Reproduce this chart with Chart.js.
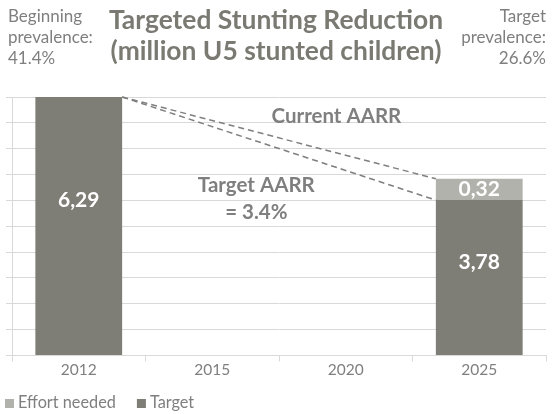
<!DOCTYPE html>
<html><head><meta charset="utf-8">
<script src="https://cdn.jsdelivr.net/npm/chart.js@4/dist/chart.umd.min.js"></script>
<style>html,body{margin:0;padding:0;background:#fff}#wrap{width:554px;height:414px;position:relative}</style>
</head><body><div id="wrap"><canvas id="c" width="554" height="414"></canvas></div>
<script>
// ---- data ----
const categories = ['2012', '2015', '2020', '2025'];
const targetValues = [6.29, null, null, 3.78];
const effortValues = [null, null, null, 0.52];
const targetLabels = ['6,29', '', '', '3,78'];
const effortLabels = ['', '', '', '0,32'];
const seriesNames = ['Target', 'Effort needed'];
const yMax = 6.29;
const yTickCount = 11;
const titleLines = ['Targeted Stunting Reduction', '(million U5 stunted children)'];
const leftNote = ['Beginning', 'prevalence:', '41.4%'];
const rightNote = ['Target', 'prevalence:', '26.6%'];
const noteCurrent = ['Current AARR'];
const noteTarget = ['Target AARR', '= 3.4%'];
// annotation anchors in axis units (category index, y value)
const noteCurrentAt = [1.93, 5.82];
const noteTargetAt = [1.33, 4.13];

const DARK = '#7f7e76', LIGHT = '#b2b2ac', TXT = '#7f7f7f', GRID = '#d9d9d9';
const FONT = 'Lato, "Open Sans", sans-serif';

const overlay = {
  id: 'overlay',
  afterDatasetsDraw(chart) {
    const ctx = chart.ctx;
    const tMeta = chart.getDatasetMeta(0), eMeta = chart.getDatasetMeta(1);
    const a = tMeta.data[0], bT = tMeta.data[3], bE = eMeta.data[3];
    ctx.save();
    // dashed AARR lines
    ctx.strokeStyle = '#7f7f7f'; ctx.lineWidth = 1.5; ctx.setLineDash([6, 4]);
    const sx = a.x + a.width / 2, sy = a.y;
    ctx.beginPath(); ctx.moveTo(sx, sy); ctx.lineTo(bE.x - bE.width / 2, bE.y); ctx.stroke();
    ctx.beginPath(); ctx.moveTo(sx, sy); ctx.lineTo(bT.x - bT.width / 2, bT.y); ctx.stroke();
    ctx.setLineDash([]);
    // value labels
    ctx.fillStyle = '#ffffff'; ctx.textAlign = 'center'; ctx.textBaseline = 'middle';
    ctx.font = 'bold 21px ' + FONT;
    tMeta.data.forEach((el, i) => {
      if (!targetLabels[i] || targetValues[i] == null) return;
      ctx.fillText(targetLabels[i], el.x, el.y + (el.base - el.y) * 0.4);
    });
    eMeta.data.forEach((el, i) => {
      if (!effortLabels[i] || effortValues[i] == null) return;
      ctx.fillText(effortLabels[i], el.x, (el.y + el.base) / 2);
    });
    // annotations
    const xs = chart.scales.x, ys = chart.scales.y;
    ctx.fillStyle = TXT; ctx.font = 'bold 20.5px ' + FONT;
    ctx.fillText(noteCurrent[0], xs.getPixelForValue(noteCurrentAt[0]), ys.getPixelForValue(noteCurrentAt[1]));
    const tx = xs.getPixelForValue(noteTargetAt[0]), ty = ys.getPixelForValue(noteTargetAt[1]);
    ctx.fillText(noteTarget[0], tx, ty);
    ctx.fillText(noteTarget[1], tx, ty + 27);
    ctx.restore();
  },
  afterDraw(chart) {
    const ctx = chart.ctx;
    ctx.save();
    ctx.textBaseline = 'middle';
    ctx.fillStyle = '#7a7a73';
    ctx.textAlign = 'center';
    ctx.font = 'bold 26.4px ' + FONT;
    titleLines.forEach((t, i) => ctx.fillText(t, 276, 20 + i * 31));
    ctx.fillStyle = TXT;
    ctx.font = '17px ' + FONT;
    ctx.textAlign = 'left';
    leftNote.forEach((t, i) => ctx.fillText(t, 8, 17 + i * 21));
    ctx.textAlign = 'right';
    rightNote.forEach((t, i) => ctx.fillText(t, 546, 17 + i * 21));
    // legend (order: Effort needed, Target)
    ctx.textAlign = 'left';
    ctx.font = '16.3px ' + FONT;
    let x = 5;
    [1, 0].forEach(di => {
      const ds = chart.data.datasets[di];
      ctx.fillStyle = ds.backgroundColor;
      ctx.fillRect(x, 399, 9, 9);
      ctx.fillStyle = TXT;
      ctx.fillText(ds.label, x + 13, 403);
      x += 13 + ctx.measureText(ds.label).width + 21;
    });
    ctx.restore();
  }
};

new Chart(document.getElementById('c'), {
  type: 'bar',
  data: {
    labels: categories,
    datasets: [
      { label: seriesNames[0], data: targetValues, backgroundColor: DARK, borderWidth: 0, barPercentage: 0.65, categoryPercentage: 1 },
      { label: seriesNames[1], data: effortValues, backgroundColor: LIGHT, borderWidth: 0, barPercentage: 0.65, categoryPercentage: 1 }
    ]
  },
  options: {
    responsive: false,
    animation: false,
    layout: { padding: { top: 97, left: 0, right: 8, bottom: 36 } },
    scales: {
      x: {
        stacked: true,
        grid: { display: true, drawOnChartArea: false, drawTicks: true, tickLength: 6, color: GRID, offset: true },
        border: { color: GRID },
        ticks: { color: TXT, font: { family: FONT, size: 15.5 }, padding: -1 }
      },
      y: {
        stacked: true, min: 0, max: yMax,
        afterFit(s) { s.width = 12; },
        grid: { color: GRID, drawTicks: true, tickLength: 6 },
        border: { color: GRID },
        ticks: { display: false, count: yTickCount }
      }
    },
    plugins: {
      legend: { display: false },
      tooltip: { enabled: false },
      title: { display: false }
    }
  },
  plugins: [overlay]
});
</script>
</body></html>
